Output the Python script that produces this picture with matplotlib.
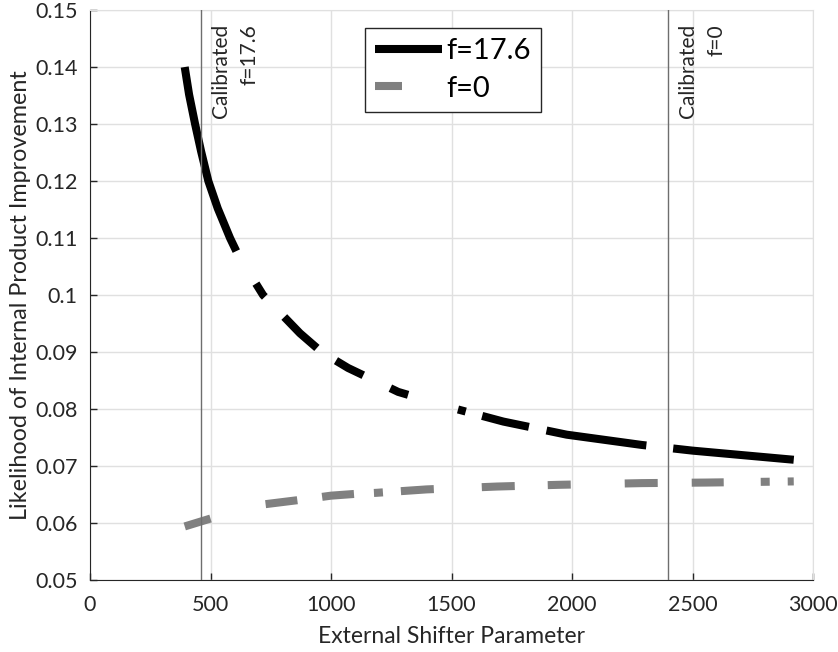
import matplotlib
matplotlib.use("Agg")
import matplotlib.pyplot as plt

# curve f=17.6
x_f176 = [393, 411, 436, 461, 491, 530, 581, 615, 718, 871, 961, 1071, 1279, 1520,
          1715, 1978, 2289, 2500, 2920]
y_f176 = [0.1400, 0.1352, 0.1300, 0.1252, 0.1200, 0.1152, 0.1100, 0.1070, 0.1000,
          0.0933, 0.0900, 0.0872, 0.0830, 0.0800, 0.0778, 0.0755, 0.0737, 0.0727, 0.0711]
# curve f=0
x_f0 = [393, 501, 600, 726, 860, 1000, 1097, 1189, 1397, 1688, 1942, 2289, 2558, 2920]
y_f0 = [0.0594, 0.0608, 0.0622, 0.0633, 0.0640, 0.0648, 0.0651, 0.0653, 0.0659,
        0.0664, 0.0667, 0.0670, 0.0671, 0.0673]
labels = ["f=17.6", "f=0"]
calib_x = [460, 2400]
calib_txt = ["Calibrated\nf=17.6", "Calibrated\nf=0"]
xticks = [0, 500, 1000, 1500, 2000, 2500, 3000]
yticks = [0.05, 0.06, 0.07, 0.08, 0.09, 0.1, 0.11, 0.12, 0.13, 0.14, 0.15]

plt.rcParams['font.family'] = ['Lato', 'DejaVu Sans']
plt.rcParams['lines.scale_dashes'] = False
TXT = '#262626'

# MATLAB's irregular dash-dot look, lengths in px -> pt
px = 0.72
dash_k = [192, 38, 16, 28, 45, 23, 31, 30, 19, 52, 8, 17, 48, 18, 101, 27, 300, 10]
dash_g = [27, 57, 32, 25, 32, 20, 9, 18, 33, 48, 33, 33, 23, 54, 33, 34, 32, 37, 9, 18, 9, 60]

fig = plt.figure(figsize=(8.38, 6.52), dpi=100)
ax = fig.add_axes([0.1074, 0.1104, 0.8628, 0.8742])

ax.plot(x_f176, y_f176, color='black', lw=5.8, label=labels[0],
        linestyle=(0, [d * px for d in dash_k]), solid_capstyle='butt', dash_capstyle='butt')
ax.plot(x_f0, y_f0, color='#808080', lw=5.8, label=labels[1],
        linestyle=(0, [d * px for d in dash_g]), solid_capstyle='butt', dash_capstyle='butt')

for cx, t in zip(calib_x, calib_txt):
    ax.axvline(cx, color='#6e6e6e', lw=1.0, zorder=3)
    ax.annotate(t, xy=(cx, 0.15), xytext=(7, -10), textcoords='offset points',
                rotation=90, ha='left', va='top', multialignment='right',
                fontsize=15, color=TXT, linespacing=1.55)

ax.set_xlim(0, 3000)
ax.set_ylim(0.05, 0.15)
ax.set_xticks(xticks)
ax.set_yticks(yticks)
ax.set_xticklabels([str(v) for v in xticks])
ax.set_yticklabels(['%g' % v for v in yticks])
ax.grid(True, color='#e0e0e0', lw=1.0)
ax.set_axisbelow(True)
for s in ['top', 'right']:
    ax.spines[s].set_color('#e0e0e0')
for s in ['left', 'bottom']:
    ax.spines[s].set_color(TXT)
ax.tick_params(direction='in', length=5, width=1, colors=TXT, labelsize=15.5,
               top=False, right=False)
ax.tick_params(axis='x', pad=11)
ax.tick_params(axis='y', pad=9)
ax.set_xlabel('External Shifter Parameter', fontsize=16.5, color=TXT, labelpad=8)
ax.set_ylabel('Likelihood of Internal Product Improvement', fontsize=16.8, color=TXT, labelpad=3)

leg = ax.legend(loc='upper left', bbox_to_anchor=(0.380, 0.968), borderaxespad=0,
                fontsize=21, handlelength=2.3, handletextpad=0.15, fancybox=False,
                framealpha=1, edgecolor=TXT, borderpad=0.35, labelspacing=0.38)
leg.get_frame().set_linewidth(1.0)

fig.savefig('out.png', dpi=100)
